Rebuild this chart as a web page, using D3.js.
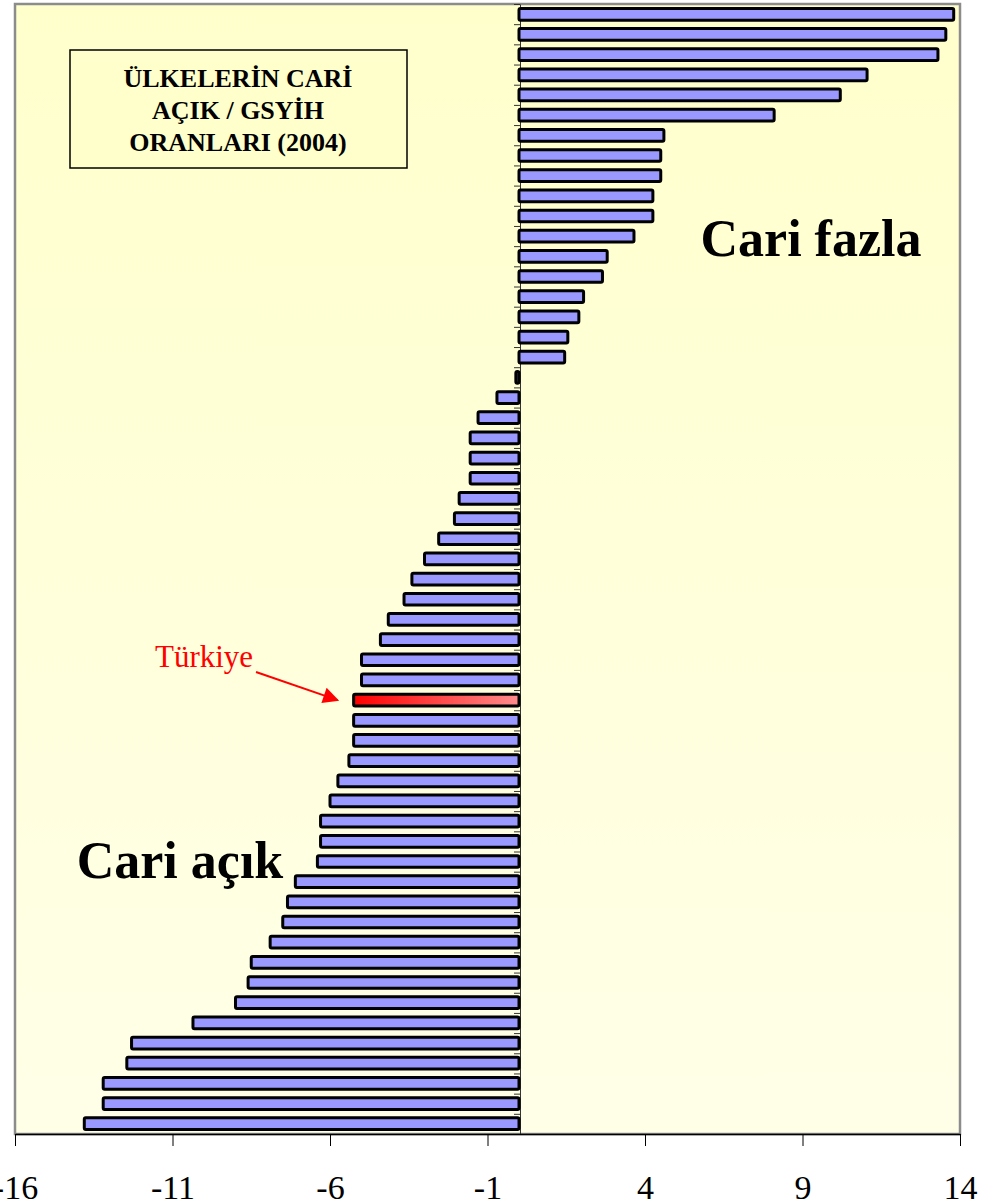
<!DOCTYPE html>
<html>
<head>
<meta charset="utf-8">
<script src="https://cdn.jsdelivr.net/npm/d3@7"></script>
<style>
  body { margin: 0; background: #fff; }
  svg { display: block; }
</style>
</head>
<body>
<div id="d3-container"></div>
<script>
/**
 * CONSTANTS AND GLOBALS
 * */
const width = 1003,
  height = 1204,
  margin = { top: 4, bottom: 70, left: 15, right: 43 };

// current account balance / GDP (%), 2004, one row per country, top to bottom
const values = [
  13.8, 13.55, 13.3, 11.05, 10.2, 8.1, 4.6, 4.5, 4.5, 4.25,
  4.25, 3.65, 2.8, 2.65, 2.05, 1.9, 1.55, 1.45, -0.1, -0.7,
  -1.3, -1.55, -1.55, -1.55, -1.9, -2.05, -2.55, -3.0, -3.4, -3.65,
  -4.15, -4.4, -5.0, -5.0, -5.25, -5.25, -5.25, -5.4, -5.75, -6.0,
  -6.3, -6.3, -6.4, -7.1, -7.35, -7.5, -7.9, -8.5, -8.6, -9.0,
  -10.35, -12.3, -12.45, -13.2, -13.2, -13.8
];
const highlightRow = 34; // Türkiye
const xTicks = [-16, -11, -6, -1, 4, 9, 14];
const titleLines = ["ÜLKELERİN CARİ", "AÇIK / GSYİH", "ORANLARI (2004)"];

let svg;

function init() {
  const rows = values.map((v, i) => ({ row: i, value: v }));

  const x = d3.scaleLinear()
    .domain([-16, 14])
    .range([margin.left, width - margin.right]);

  const y = d3.scaleBand()
    .domain(rows.map(d => d.row))
    .range([margin.top, height - margin.bottom])
    .paddingInner(0.42)
    .paddingOuter(0.22);

  // boundaries between rows for the little category ticks
  const yEdges = d3.scaleLinear()
    .domain([0, values.length])
    .range([margin.top, height - margin.bottom]);

  svg = d3.select("#d3-container")
    .append("svg")
    .attr("width", width)
    .attr("height", height);

  const defs = svg.append("defs");
  const bg = defs.append("linearGradient")
    .attr("id", "bg").attr("x1", 0).attr("x2", 0).attr("y1", 0).attr("y2", 1);
  bg.append("stop").attr("offset", "0%").attr("stop-color", "#FFFFCC");
  bg.append("stop").attr("offset", "100%").attr("stop-color", "#FFFFE8");

  const tr = defs.append("linearGradient")
    .attr("id", "tr").attr("x1", 0).attr("x2", 1).attr("y1", 0).attr("y2", 0);
  tr.append("stop").attr("offset", "0%").attr("stop-color", "#FF0000");
  tr.append("stop").attr("offset", "100%").attr("stop-color", "#FF8C8C");

  const arrow = defs.append("marker")
    .attr("id", "arrow")
    .attr("viewBox", "0 0 10 10")
    .attr("refX", 9).attr("refY", 5)
    .attr("markerWidth", 22).attr("markerHeight", 16)
    .attr("markerUnits", "userSpaceOnUse")
    .attr("orient", "auto");
  arrow.append("path").attr("d", "M0,0 L10,5 L0,10 Z").attr("fill", "#FF0000");

  // plot area
  svg.append("rect")
    .attr("x", margin.left)
    .attr("y", margin.top)
    .attr("width", width - margin.left - margin.right)
    .attr("height", height - margin.top - margin.bottom)
    .attr("fill", "url(#bg)")
    .attr("stroke", "#8c8c8c")
    .attr("stroke-width", 2.5);

  // title box
  const tb = svg.append("g").attr("class", "title-box");
  tb.append("rect")
    .attr("x", 70).attr("y", 50)
    .attr("width", 337).attr("height", 118)
    .attr("fill", "#FFFFCC")
    .attr("stroke", "#000")
    .attr("stroke-width", 1.5);
  tb.selectAll("text")
    .data(titleLines)
    .join("text")
    .attr("x", 238)
    .attr("y", (d, i) => 87 + i * 32)
    .attr("text-anchor", "middle")
    .attr("font-family", "Liberation Serif, Times New Roman, serif")
    .attr("font-weight", "bold")
    .attr("font-size", 26)
    .attr("fill", "#000")
    .text(d => d);

  // category axis at zero
  const yAxis = d3.axisLeft(yEdges)
    .tickValues(d3.range(values.length + 1))
    .tickFormat("")
    .tickSize(6)
    .tickSizeOuter(0);
  svg.append("g")
    .attr("class", "y-axis")
    .attr("transform", `translate(${x(0) + 1},0)`)
    .call(yAxis)
    .call(g => g.selectAll("line, path").attr("stroke", "#333").attr("stroke-width", 1));

  // bars
  svg.append("g")
    .selectAll("rect")
    .data(rows)
    .join("rect")
    .attr("x", d => x(Math.min(0, d.value)))
    .attr("width", d => Math.abs(x(d.value) - x(0)))
    .attr("y", d => y(d.row))
    .attr("height", y.bandwidth())
    .attr("rx", 1.5)
    .attr("fill", d => d.row === highlightRow ? "url(#tr)" : "#9999FF")
    .attr("stroke", "#000")
    .attr("stroke-width", 3);

  // value axis
  const xAxis = d3.axisBottom(x)
    .tickValues(xTicks)
    .tickFormat(d => String(d))
    .tickSize(12)
    .tickSizeOuter(0)
    .tickPadding(29);
  svg.append("g")
    .attr("class", "x-axis")
    .attr("transform", `translate(0,${height - margin.bottom})`)
    .call(xAxis)
    .call(g => g.select(".domain").attr("stroke", "#000").attr("stroke-width", 1.5))
    .call(g => g.selectAll(".tick line").attr("stroke", "#000"))
    .call(g => g.selectAll(".tick text")
      .attr("font-family", "Liberation Serif, Times New Roman, serif")
      .attr("font-size", 34)
      .attr("fill", "#000"));

  // annotations
  svg.append("text")
    .attr("x", 811).attr("y", 256)
    .attr("text-anchor", "middle")
    .attr("font-family", "Liberation Serif, Times New Roman, serif")
    .attr("font-weight", "bold")
    .attr("font-size", 52)
    .text("Cari fazla");

  svg.append("text")
    .attr("x", 180).attr("y", 878)
    .attr("text-anchor", "middle")
    .attr("font-family", "Liberation Serif, Times New Roman, serif")
    .attr("font-weight", "bold")
    .attr("font-size", 52)
    .text("Cari açık");

  const trY = y(highlightRow) + y.bandwidth() / 2;
  svg.append("text")
    .attr("x", 155).attr("y", 667)
    .attr("font-family", "Liberation Serif, Times New Roman, serif")
    .attr("font-size", 31)
    .attr("fill", "#FF0000")
    .text("Türkiye");

  svg.append("line")
    .attr("x1", 256).attr("y1", 672)
    .attr("x2", x(values[highlightRow]) - 16).attr("y2", trY)
    .attr("stroke", "#FF0000")
    .attr("stroke-width", 2)
    .attr("marker-end", "url(#arrow)");
}

init();
</script>
</body>
</html>
